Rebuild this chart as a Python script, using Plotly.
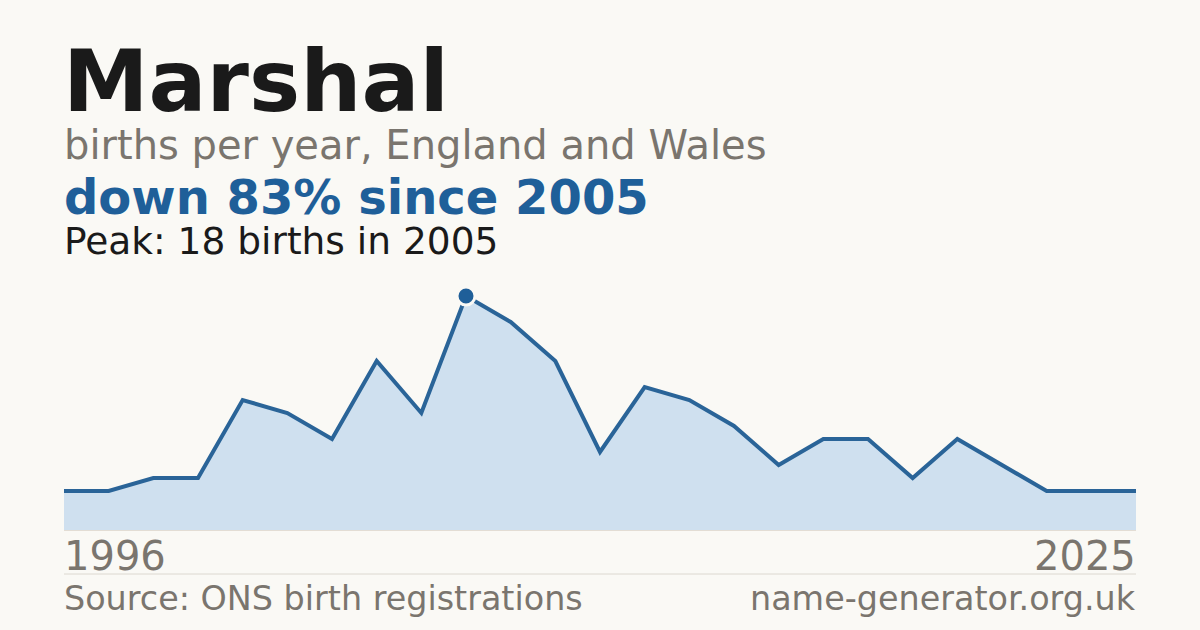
import plotly.graph_objects as go

# ---- data ----
births = [3, 3, 4, 4, 10, 9, 7, 13, 9, 18, 16, 13, 6, 11, 10, 8, 5, 7, 7, 4, 7, 5, 3, 3, 3]
positions = list(range(len(births)))
first_year_label = "1996"
last_year_label = "2025"
peak_value = 18
peak_year = "2005"
name = "Marshal"
subtitle = "births per year, England and Wales"
headline = "down 83% since 2005"
peak_text = "Peak: 18 births in 2005"
source_text = "Source: ONS birth registrations"
site_text = "name-generator.org.uk"

W, H = 1200, 630
L, R, T, B = 64, 64, 296, 100
BG = "#faf9f5"
BLUE = "#1f5f99"
GRAY = "#7a756e"
DARK = "#1a1a1a"
FONT = "DejaVu Sans"

peak_idx = births.index(max(births))

fig = go.Figure()
fig.add_trace(go.Scatter(
    x=positions, y=births, mode="lines",
    line=dict(color="#2a6498", width=4),
    fill="tozeroy", fillcolor="#cfe0ef",
    cliponaxis=False, hoverinfo="skip", showlegend=False,
))
fig.add_trace(go.Scatter(
    x=[positions[peak_idx]], y=[births[peak_idx]], mode="markers",
    marker=dict(size=18, color=BLUE, line=dict(color=BG, width=3)),
    cliponaxis=False, hoverinfo="skip", showlegend=False,
))

plot_h = H - T - B


def py(pix):
    return (H - B - pix) / plot_h


def px(pix):
    return (pix - L) / (W - L - R)


ann = []


def add(text, x, y, size, color, bold=False, anchor="left"):
    ann.append(dict(
        text=f"<b>{text}</b>" if bold else text,
        x=px(x), y=py(y), xref="paper", yref="paper",
        xanchor=anchor, yanchor="middle", showarrow=False,
        font=dict(family=FONT, size=size, color=color),
    ))


add(name, 61, 80.5, 86, DARK, bold=True)
add(subtitle, 62, 145, 40, GRAY)
add(headline, 62, 197, 48, BLUE, bold=True)
add(peak_text, 62, 241, 37.5, DARK)
add(first_year_label, 62, 555.5, 40, GRAY)
add(last_year_label, 1138, 555.5, 40, GRAY, anchor="right")
add(source_text, 62, 598, 33.4, GRAY)
add(site_text, 1138, 598, 33.4, GRAY, anchor="right")

fig.update_layout(
    width=W, height=H,
    margin=dict(l=L, r=R, t=T, b=B, pad=0),
    paper_bgcolor=BG, plot_bgcolor=BG,
    annotations=ann,
    shapes=[dict(type="line", xref="paper", yref="paper",
                 x0=0, x1=1, y0=py(574), y1=py(574),
                 line=dict(color="#dcd8d0", width=1))],
    xaxis=dict(range=[0, len(births) - 1], showgrid=False, zeroline=False,
               showticklabels=False, showline=True, linecolor="#e3ddd4", linewidth=1),
    yaxis=dict(range=[0, peak_value], showgrid=False, zeroline=False,
               showticklabels=False, showline=False),
)

fig.write_html(
    "out.html",
    config={"displayModeBar": False, "staticPlot": True},
    post_script="document.body.style.margin='0';document.body.style.background='%s';" % BG,
)
